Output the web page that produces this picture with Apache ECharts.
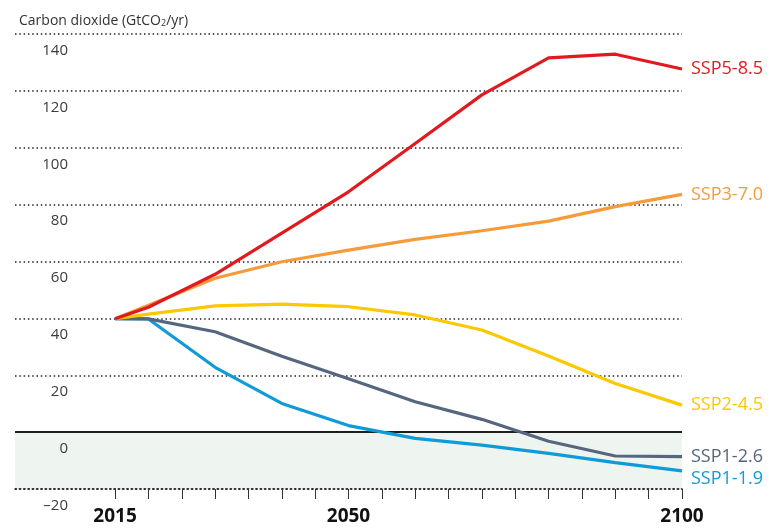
<!DOCTYPE html>
<html>
<head>
<meta charset="utf-8">
<script src="https://cdn.jsdelivr.net/npm/echarts@6/dist/echarts.min.js"></script>
<style>
  html, body { margin: 0; padding: 0; background: #ffffff; }
  #chart { width: 771px; height: 530px; }
</style>
</head>
<body>
<div id="chart"></div>
<script>
// Annual CO2 emissions by shared socio-economic pathway, GtCO2 per year
const years = [2015, 2020, 2030, 2040, 2050, 2060, 2070, 2080, 2090, 2100];
const ssp119 = [39.9, 39.8, 22.8, 10.1, 2.3, -2.2, -4.6, -7.5, -10.7, -13.6];
const ssp126 = [39.9, 39.8, 35.3, 26.7, 18.8, 10.7, 4.5, -3.2, -8.4, -8.6];
const ssp245 = [39.9, 41.5, 44.4, 45.0, 44.1, 41.2, 35.9, 26.8, 17.1, 9.5];
const ssp370 = [39.9, 44.6, 54.1, 59.9, 64.0, 67.8, 70.8, 74.2, 79.3, 83.6];
const ssp585 = [39.9, 43.9, 55.5, 70.0, 84.5, 101.5, 118.6, 131.6, 132.9, 127.7];

const scenarioNames = ['SSP1-1.9', 'SSP1-2.6', 'SSP2-4.5', 'SSP3-7.0', 'SSP5-8.5'];
const scenarioColors = ['#0f9ad8', '#56667e', '#fcc800', '#f59b3a', '#e01a1f'];
const endLabelShift = [8, 0, 0, 0, 0];

const yTicks = [-20, 0, 20, 40, 60, 80, 100, 120, 140];
const xTickYears = [2015, 2020, 2025, 2030, 2035, 2040, 2045, 2050, 2055, 2060,
                    2065, 2070, 2075, 2080, 2085, 2090, 2095, 2100];
const xLabelYears = [2015, 2050, 2100];

const FONT = '"Open Sans", "Noto Sans", sans-serif';
const seriesValues = [ssp119, ssp126, ssp245, ssp370, ssp585];

// background band below zero plus the solid zero line, kept under the axes
const backdrop = {
  name: 'below-zero',
  type: 'line',
  data: [],
  z: -1,
  silent: true,
  markArea: {
    silent: true,
    z: -2,
    itemStyle: { color: '#eef4ef' },
    data: [[{ yAxis: yTicks[0] }, { yAxis: 0 }]]
  },
  markLine: {
    silent: true,
    z: -1,
    symbol: 'none',
    label: { show: false },
    lineStyle: { color: '#1e1e1e', width: 2, type: 'solid' },
    data: [{ yAxis: 0 }]
  },
  animation: false
};

const series = [backdrop].concat(seriesValues.map(function (vals, i) {
  return {
    name: scenarioNames[i],
    type: 'line',
    data: years.map(function (y, k) { return [y, vals[k]]; }),
    symbol: 'none',
    lineStyle: { color: scenarioColors[i], width: 3.2 },
    z: 3 + i,
    endLabel: {
      show: true,
      formatter: scenarioNames[i],
      color: scenarioColors[i],
      fontFamily: FONT,
      fontSize: 18,
      distance: 9,
      offset: [0, endLabelShift[i]]
    },
    animation: false
  };
}));

const chart = echarts.init(document.getElementById('chart'), null, { renderer: 'canvas' });
chart.setOption({
  animation: false,
  backgroundColor: '#ffffff',
  title: {
    text: 'Carbon dioxide (GtCO{sub|2}/yr)',
    left: 14,
    top: 9,
    textStyle: {
      fontFamily: FONT,
      fontSize: 14,
      fontWeight: 'normal',
      color: '#333333',
      rich: {
        sub: { fontFamily: FONT, fontSize: 9, color: '#333333', verticalAlign: 'bottom', padding: [5, 0, 0, 0] }
      }
    }
  },
  grid: { left: 15, right: 89, top: 34, bottom: 41, containLabel: false },
  xAxis: {
    type: 'value',
    min: 2000,
    max: 2100,
    interval: 5,
    splitLine: { show: false },
    axisLine: {
      show: true,
      onZero: false,
      lineStyle: { color: '#222222', width: 1.5, type: [1.5, 2.8] }
    },
    axisTick: {
      show: true,
      customValues: xTickYears,
      length: 10,
      lineStyle: { color: '#333333', width: 1 }
    },
    axisLabel: {
      customValues: xLabelYears,
      formatter: function (v) { return String(v); },
      fontFamily: FONT,
      fontSize: 19,
      fontWeight: 'bold',
      color: '#111111',
      margin: 18
    }
  },
  yAxis: {
    type: 'value',
    min: yTicks[0],
    max: yTicks[yTicks.length - 1],
    interval: 20,
    axisLine: { show: false },
    axisTick: { show: false },
    splitLine: {
      show: true,
      lineStyle: { color: '#222222', width: 1.5, type: [1.5, 2.8] }
    },
    axisLabel: {
      inside: true,
      margin: 53,
      align: 'right',
      verticalAlign: 'top',
      padding: [9, 0, 0, 0],
      fontFamily: FONT,
      fontSize: 15,
      color: '#3c3c3c',
      formatter: function (v) { return String(v).replace('-', '\u2013'); }
    }
  },
  series: series
});
</script>
</body>
</html>
